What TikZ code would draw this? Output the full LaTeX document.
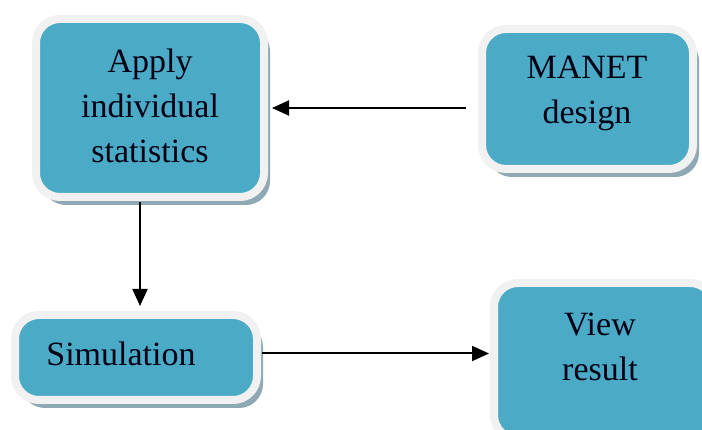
\documentclass[tikz,border=0pt]{standalone}
\usepackage{fontspec}
\setmainfont{Liberation Serif}
\usetikzlibrary{shadows,arrows.meta}
\definecolor{boxblue}{HTML}{4BABC6}
\definecolor{boxrim}{HTML}{F1F1F1}
\definecolor{shadowgray}{HTML}{8EA9B3}
\tikzset{
  box/.style={draw=boxrim, line width=8pt, fill=boxblue, rounded corners=24pt,
    inner sep=0pt, anchor=center,
    drop shadow={shadow xshift=6pt, shadow yshift=-8pt, fill=shadowgray, opacity=1}},
  lbl/.style={align=center, font=\fontsize{34}{45}\selectfont, text=black!92!blue, inner sep=0pt},
  arr/.style={line width=2pt, -{Triangle[length=17pt,width=15pt]}}
}
\begin{document}
\begin{tikzpicture}[x=1pt,y=-1pt]
\useasboundingbox (0,0) rectangle (702,430);
\clip (0,0) rectangle (702,430);
\fill[white] (0,0) rectangle (702,430);
\node[box, minimum width=228pt, minimum height=178pt] (a1) at (150,108) {};
\node[box, minimum width=211pt, minimum height=140pt] (m) at (587.5,99) {};
\node[box, minimum width=242pt, minimum height=85pt] (s) at (136,357.5) {};
\node[box, minimum width=220pt, minimum height=156pt] (v) at (604,361) {};
\node[lbl] (ta) at (150,106) {Apply\\individual\\statistics};
\node[lbl] (tm) at (587,93) {MANET\\design};
\node[lbl] (ts) at (121,354) {Simulation};
\node[lbl] (tv) at (600,347) {View\\result};
\draw[arr, shorten <=12pt, shorten >=4pt] (m.west |- a1.east) -- (a1.east);
\draw[arr, shorten <=1pt, shorten >=5pt] ([xshift=-10pt]a1.south) -- ([xshift=-10pt]a1.south |- s.north);
\draw[arr, shorten <=1pt, shorten >=1pt] ([yshift=4pt]s.east) -- ([yshift=4pt]s.east -| v.west);
\end{tikzpicture}
\end{document}
